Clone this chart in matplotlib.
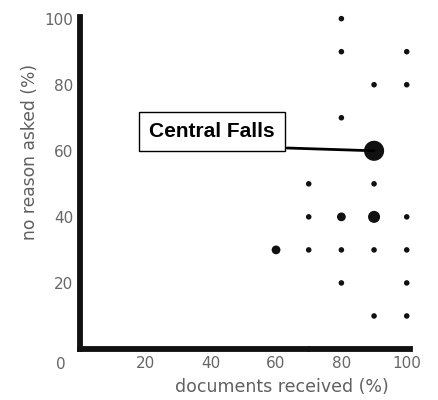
import matplotlib
matplotlib.use("Agg")
import matplotlib.pyplot as plt

# documents received (%) vs no reason asked (%), marker size ~ number of towns
docs_received = [80, 80, 100, 90, 100, 80, 90, 70, 90, 70, 80, 90, 100,
                 60, 70, 80, 90, 100, 80, 100, 90, 100, 70]
no_reason = [100, 90, 90, 80, 80, 70, 60, 50, 50, 40, 40, 40, 40,
             30, 30, 30, 30, 30, 20, 20, 10, 10, 0]
town_count = [1, 1, 1, 1, 1, 1, 6, 1, 1, 1, 2, 3, 1,
              2, 1, 1, 1, 1, 1, 1, 1, 1, 1]

label_town = "Central Falls"
label_x, label_y = 90, 60

fig = plt.figure(figsize=(4.38, 4.0), dpi=100)
ax = fig.add_axes([80 / 438, 51 / 400, 330 / 438, 332 / 400])

size_map = {1: 16, 2: 40, 3: 75, 6: 210}
sizes = [size_map[c] for c in town_count]
ax.scatter(docs_received, no_reason, s=sizes, color="#111111",
           edgecolors="none", zorder=3, clip_on=False)

ax.set_xlim(0, 101)
ax.set_ylim(0, 100.5)
ax.set_xticks([20, 40, 60, 80, 100])
ax.set_yticks([20, 40, 60, 80, 100])
ax.tick_params(length=0, labelsize=11, labelcolor="#666666", pad=5)

for side in ["top", "right"]:
    ax.spines[side].set_visible(False)
for side in ["left", "bottom"]:
    ax.spines[side].set_linewidth(4.2)
    ax.spines[side].set_color("#111111")

ax.text(-0.045, -0.025, "0", transform=ax.transAxes, ha="right", va="top",
        fontsize=11, color="#666666")

fig.text(30 / 438, 1 - 152 / 400, "no reason asked (%)", rotation=90,
         ha="center", va="center", fontsize=12.3, color="#606060")
fig.text(282 / 438, 1 - 387 / 400, "documents received (%)",
         ha="center", va="center", fontsize=12.5, color="#606060")

# label box and leader line
fig.text(212 / 438, 1 - 131.5 / 400, label_town, ha="center", va="center",
         fontsize=15, family="Liberation Sans", fontweight="bold",
         bbox=dict(boxstyle="square,pad=0.5", fc="white", ec="black", lw=1))
ax.annotate("", xy=(label_x, label_y), xycoords="data",
            xytext=(287, 400 - 148), textcoords="figure pixels",
            arrowprops=dict(arrowstyle="-", color="black", lw=2,
                            shrinkA=0, shrinkB=0))

fig.savefig("out.png", dpi=100)
